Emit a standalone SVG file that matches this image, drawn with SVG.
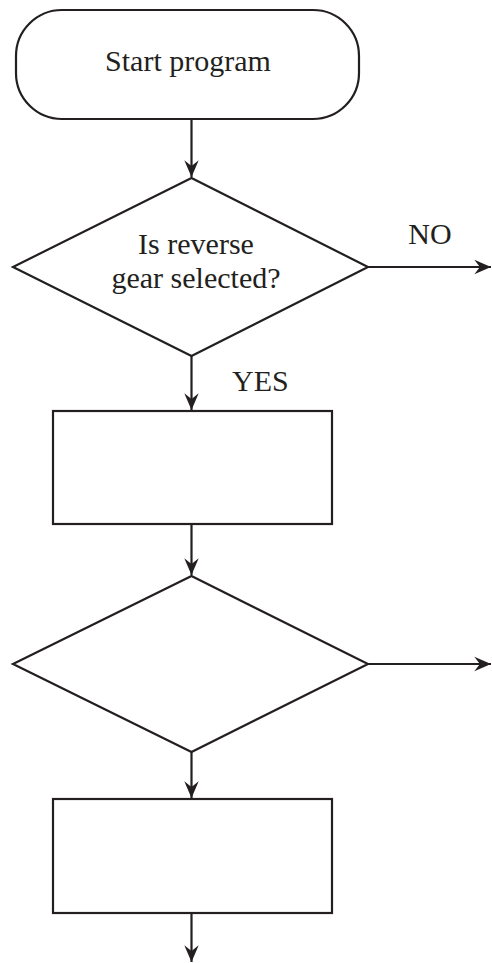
<svg xmlns="http://www.w3.org/2000/svg" width="492" height="963" viewBox="0 0 492 963">
<style>
.shape{fill:#fff;stroke:#231f20;stroke-width:2.2}
.conn{fill:none;stroke:#231f20;stroke-width:2.2}
.t{font-family:"Liberation Serif","Times New Roman",serif;font-size:30px;fill:#231f20}
.c{text-anchor:middle}
</style>
<defs>
<marker id="arr" markerUnits="userSpaceOnUse" markerWidth="20" markerHeight="20" viewBox="-16 -8 18 16" refX="0" refY="0" orient="auto">
<path d="M0,0 L-15,-6.5 L-10,0 L-15,6.5 Z" fill="#231f20"/>
</marker>
</defs>
<rect width="492" height="963" fill="#fff"/>
<g id="connectors">
<line class="conn" x1="191.5" y1="119" x2="191.5" y2="177" marker-end="url(#arr)"/>
<line class="conn" x1="368" y1="267" x2="491" y2="267" marker-end="url(#arr)"/>
<line class="conn" x1="191.5" y1="356" x2="191.5" y2="410" marker-end="url(#arr)"/>
<line class="conn" x1="191.5" y1="524" x2="191.5" y2="575" marker-end="url(#arr)"/>
<line class="conn" x1="368" y1="664" x2="491" y2="664" marker-end="url(#arr)"/>
<line class="conn" x1="191.5" y1="752" x2="191.5" y2="798" marker-end="url(#arr)"/>
<line class="conn" x1="191.5" y1="913" x2="191.5" y2="962" marker-end="url(#arr)"/>
<text class="t" x="430" y="244" text-anchor="middle">NO</text>
<text class="t" x="232" y="391">YES</text>
</g>
<g id="start">
<rect class="shape" x="16" y="10" width="343" height="109" rx="46" ry="46"/>
<text class="t c" x="188" y="71">Start program</text>
</g>
<g id="decision1">
<polygon class="shape" points="191.5,178 368,267 191.5,356 13,267"/>
<text class="t c" x="196" y="254">Is reverse</text>
<text class="t c" x="196" y="288">gear selected?</text>
</g>
<g id="process1">
<rect class="shape" x="53" y="411" width="279" height="113"/>
</g>
<g id="decision2">
<polygon class="shape" points="191.5,576 368,664 191.5,752 13,664"/>
</g>
<g id="process2">
<rect class="shape" x="53" y="799" width="279" height="114"/>
</g>
</svg>
